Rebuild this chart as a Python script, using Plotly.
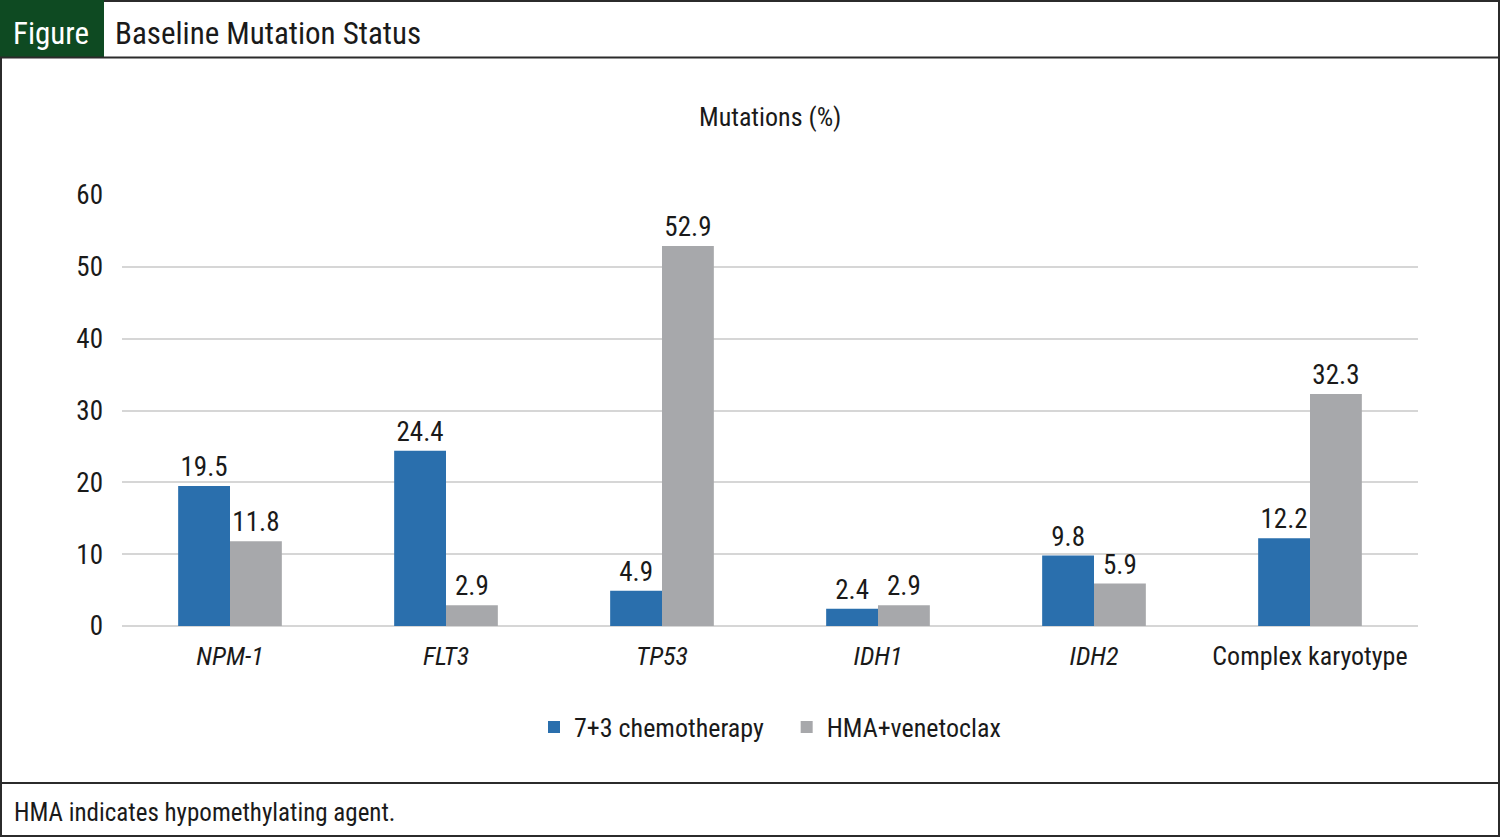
import plotly.graph_objects as go

categories = ["NPM-1", "FLT3", "TP53", "IDH1", "IDH2", "Complex karyotype"]
tick_labels = ["<i>NPM-1</i>", "<i>FLT3</i>", "<i>TP53</i>", "<i>IDH1</i>", "<i>IDH2</i>", "Complex karyotype"]
chemo = [19.5, 24.4, 4.9, 2.4, 9.8, 12.2]
hma = [11.8, 2.9, 52.9, 2.9, 5.9, 32.3]
series_names = ["7+3 chemotherapy", "HMA+venetoclax"]
y_ticks = [0, 10, 20, 30, 40, 50, 60]

FONT = "Roboto Condensed, Liberation Sans Narrow, Arial Narrow, DejaVu Sans Condensed, sans-serif"
BLUE = "#2a6fad"
GRAY = "#a7a8ab"
TXT = "#1a1a1a"

W, H = 1500, 837
L, R, T, B = 122, 1418, 195, 626

def xp(px):
    return (px - L) / (R - L)

def yp(py):
    return (B - py) / (B - T)

fig = go.Figure()
legend_names = [series_names[0] + "\u00a0\u00a0\u00a0", series_names[1]]
for name, vals, col in [(legend_names[0], chemo, BLUE), (legend_names[1], hma, GRAY)]:
    fig.add_trace(go.Bar(
        name=name, x=categories, y=vals, marker_color=col, marker_line_width=0,
        text=[f"{v:.1f}" for v in vals], textposition="outside",
        textfont=dict(size=27, color=TXT, family=FONT), cliponaxis=False,
    ))

fig.update_layout(
    width=W, height=H,
    margin=dict(l=L, r=W - R, t=T, b=H - B, pad=0),
    paper_bgcolor="white", plot_bgcolor="white",
    font=dict(family=FONT, size=26, color=TXT),
    barmode="group", bargap=0.52, bargroupgap=0,
    showlegend=True,
    legend=dict(orientation="h", x=0.5, xanchor="center", y=yp(727), yanchor="middle",
                font=dict(size=26, family=FONT), itemwidth=30, traceorder="normal"),
)
fig.update_xaxes(tickmode="array", tickvals=categories, ticktext=tick_labels,
                 showgrid=False, showline=False, ticks="", tickfont=dict(size=26),
                 ticklabelstandoff=12)
fig.update_yaxes(range=[0, 60], tickvals=y_ticks, showgrid=True, gridcolor="#d6d6d6",
                 gridwidth=2, zeroline=True, zerolinecolor="#d6d6d6", zerolinewidth=2,
                 showline=False, ticks="", tickfont=dict(size=27), ticklabelstandoff=18)

shapes = []
shapes.append(dict(type="rect", xref="paper", yref="paper", x0=xp(1), x1=xp(1499), y0=yp(1), y1=yp(836),
                   line=dict(color="#2b2b2b", width=2), fillcolor="rgba(0,0,0,0)", layer="above"))
shapes.append(dict(type="rect", xref="paper", yref="paper", x0=xp(0), x1=xp(104), y0=yp(0), y1=yp(57),
                   line=dict(width=0), fillcolor="#0e4a22", layer="above"))
shapes.append(dict(type="line", xref="paper", yref="paper", x0=xp(0), x1=xp(1500), y0=yp(57.5), y1=yp(57.5),
                   line=dict(color="#2b2b2b", width=2), layer="above"))
shapes.append(dict(type="line", xref="paper", yref="paper", x0=xp(0), x1=xp(1500), y0=yp(783), y1=yp(783),
                   line=dict(color="#2b2b2b", width=2), layer="above"))
fig.update_layout(shapes=shapes)

annotations = [
    dict(text="Figure", x=xp(51), y=yp(33), xref="paper", yref="paper", showarrow=False,
         font=dict(size=31, color="white", family=FONT), xanchor="center", yanchor="middle"),
    dict(text="Baseline Mutation Status", x=xp(113), y=yp(33), xref="paper", yref="paper", showarrow=False,
         font=dict(size=31, color=TXT, family=FONT), xanchor="left", yanchor="middle"),
    dict(text="Mutations (%)", x=0.5, y=yp(117), xref="paper", yref="paper", showarrow=False,
         font=dict(size=26, color=TXT, family=FONT), xanchor="center", yanchor="middle"),
    dict(text="HMA indicates hypomethylating agent.", x=xp(12), y=yp(812), xref="paper", yref="paper",
         showarrow=False, font=dict(size=25, color=TXT, family=FONT), xanchor="left", yanchor="middle"),
]
fig.update_layout(annotations=annotations)

fig.write_html("out.html", config={"displayModeBar": False},
               post_script="document.body.style.margin='0';document.body.style.overflow='hidden';")
